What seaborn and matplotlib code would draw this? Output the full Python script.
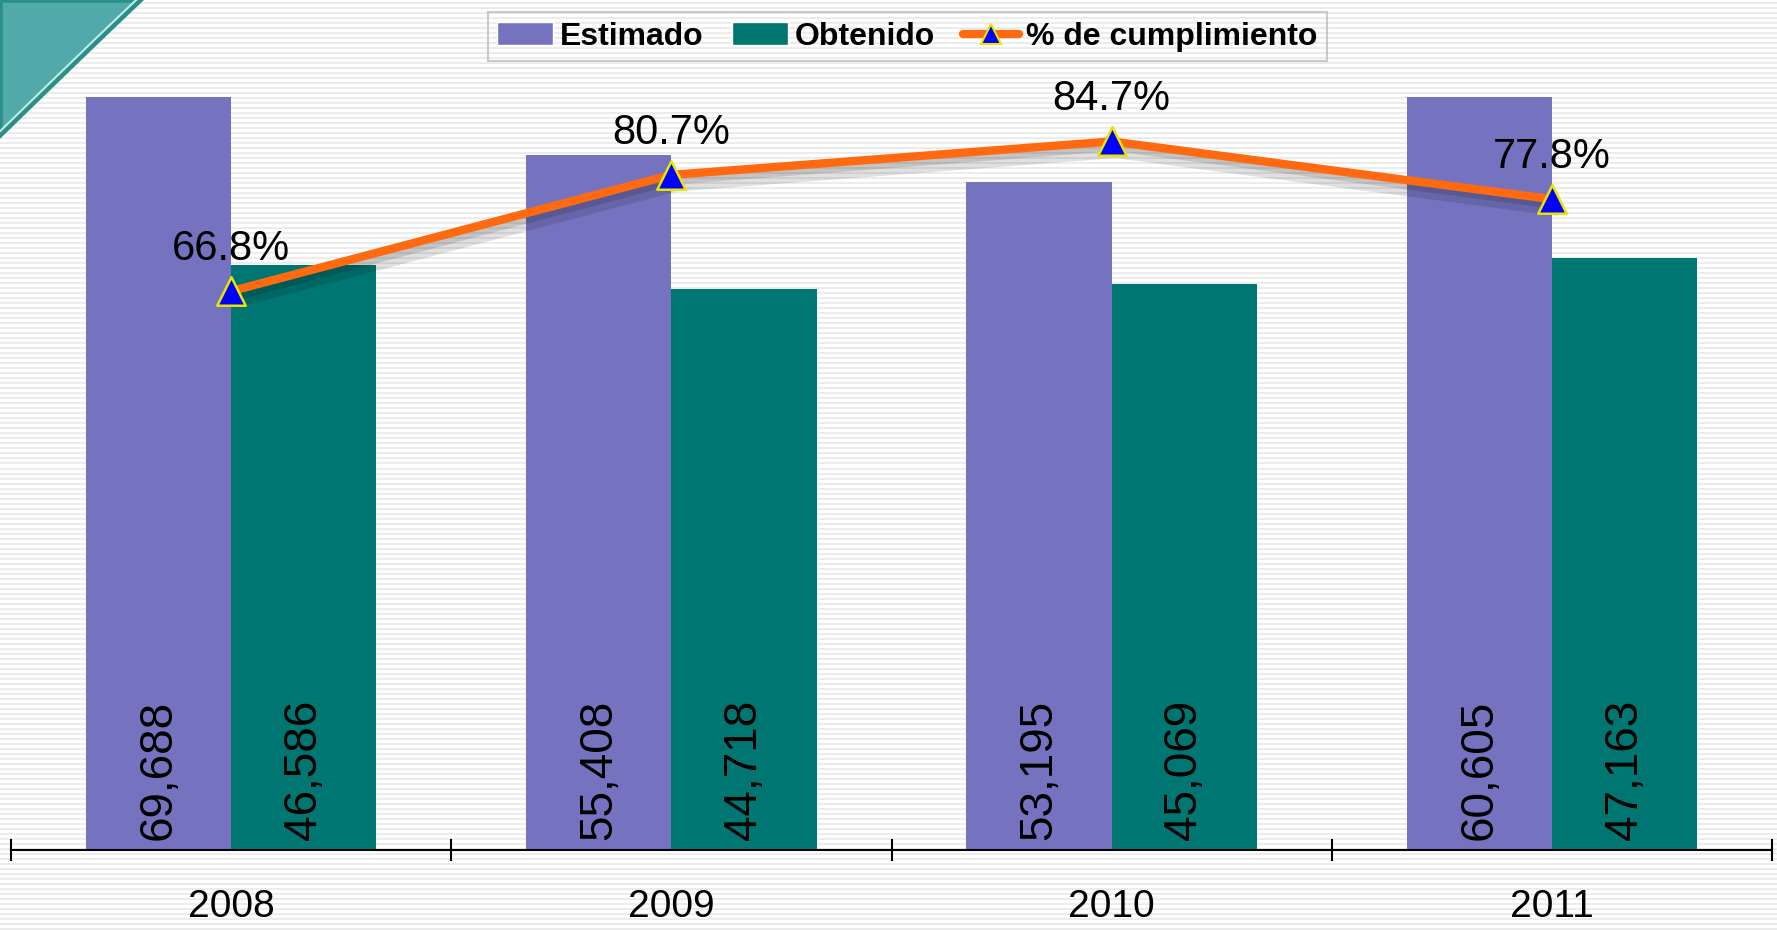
import numpy as np
import pandas as pd
import matplotlib
matplotlib.use("Agg")
import matplotlib.pyplot as plt
import matplotlib.patheffects as pe
from matplotlib.patches import Polygon
from matplotlib.lines import Line2D
import seaborn as sns

# datos
years = ["2008", "2009", "2010", "2011"]
estimado = [69688, 55408, 53195, 60605]
obtenido = [46586, 44718, 45069, 47163]
cumplimiento = [66.8, 80.7, 84.7, 77.8]

COL_EST = "#7573C0"
COL_OBT = "#007672"
COL_LINE = "#FF6A10"

sns.set_theme(style="white")
plt.rcParams["font.family"] = ["Liberation Sans", "DejaVu Sans"]
plt.rcParams["text.color"] = "black"
plt.rcParams["xtick.color"] = "black"

df = pd.DataFrame({
    "year": years * 2,
    "valor": estimado + obtenido,
    "serie": ["Estimado"] * 4 + ["Obtenido"] * 4,
})

fig = plt.figure(figsize=(17.77, 9.30), dpi=100)

# fondo rayado
bg = fig.add_axes([0, 0, 1, 1], zorder=-10)
rows = np.array([1.0 if (i % 5) < 3 else 0.925 for i in range(930)])
bg.imshow(np.tile(rows[:, None], (1, 8)), cmap="gray", vmin=0, vmax=1,
          aspect="auto", extent=[0, 1, 0, 1], interpolation="nearest")
# adorno turquesa arriba a la izquierda
t = np.linspace(0, 1, 30)
cx = 140 * t + 12 * np.sin(np.pi * t)
cy = 135 * (1 - t) - 12 * np.sin(np.pi * t)
pts = [(x / 1777, 1 - y / 930) for x, y in zip(cx, cy)] + [(0, 1)]
bg.add_patch(Polygon(pts, closed=True, facecolor="#52A9AA", edgecolor="#2B8F88",
                     linewidth=4, transform=bg.transAxes))
bg.plot([p[0] for p in pts[:-1]], [p[1] + 0.004 for p in pts[:-1]], color="#BFEDE6",
        linewidth=1.5, transform=bg.transAxes)
bg.set_xlim(0, 1)
bg.set_ylim(0, 1)
bg.axis("off")

ax = fig.add_axes([0.0062, 0.086, 0.991, 0.8096])
ax.patch.set_alpha(0)
sns.barplot(data=df, x="year", y="valor", hue="serie", palette=[COL_EST, COL_OBT],
            width=0.66, saturation=1, linewidth=0, ax=ax, legend=False, zorder=2)
ax.set_ylim(0, 60000)
ax.set_xlim(-0.5, 3.5)

# etiquetas de valor dentro de las barras
for cont, vals in zip(ax.containers, [estimado, obtenido]):
    for bar, v in zip(cont, vals):
        ax.annotate(f"{v:,}", xy=(bar.get_x() + bar.get_width() / 2, 0),
                    xytext=(0, 7), textcoords="offset points", rotation=90,
                    ha="center", va="bottom", fontsize=33, color="black", zorder=5)

ax.set_xlabel("")
ax.set_ylabel("")
ax.set_yticks([])
for s in ["top", "left", "right"]:
    ax.spines[s].set_visible(False)
ax.spines["bottom"].set_color("black")
ax.spines["bottom"].set_linewidth(1.5)
ax.set_xticks(range(4))
ax.set_xticklabels(years, fontsize=28, color="black")
ax.tick_params(axis="x", which="major", length=0, pad=28)
ax.set_xticks(np.arange(-0.5, 4, 1), minor=True)
ax.tick_params(axis="x", which="minor", direction="inout", length=16, width=1.5,
               color="black", bottom=True)

# porcentaje de cumplimiento
ax2 = ax.twinx()
ax2.set_ylim(0, 90)
sns.lineplot(x=np.arange(4), y=cumplimiento, ax=ax2, color=COL_LINE, linewidth=6,
             zorder=6,
             path_effects=[pe.SimpleLineShadow(offset=(3, -6), alpha=0.12, shadow_color="black",
                                               linewidth=12),
                           pe.SimpleLineShadow(offset=(2, -4), alpha=0.12, shadow_color="black"),
                           pe.Normal()])
sns.scatterplot(x=np.arange(4), y=cumplimiento, ax=ax2, marker="^", s=420,
                color="#0000FF", edgecolor="#E6E600", linewidth=1.8, zorder=7)
for i, p in enumerate(cumplimiento):
    ax2.annotate(f"{p}%", xy=(i, p), xytext=(0, 16), textcoords="offset points",
                 ha="center", va="bottom", fontsize=30, color="black")
ax2.set_yticks([])
ax2.set_ylabel("")
for s in ["top", "left", "right", "bottom"]:
    ax2.spines[s].set_visible(False)

handles = [
    plt.Rectangle((0, 0), 1, 1, facecolor=COL_EST),
    plt.Rectangle((0, 0), 1, 1, facecolor=COL_OBT),
    Line2D([], [], color=COL_LINE, linewidth=6, marker="^", markersize=14,
           markerfacecolor="#0000FF", markeredgecolor="#E6E600", markeredgewidth=1.5),
]
leg = fig.legend(handles, ["Estimado", "Obtenido", "% de cumplimiento"], loc="upper center",
                 bbox_to_anchor=(0.5105, 1.004), ncol=3, frameon=True, fancybox=False,
                 prop={"weight": "bold", "size": 23}, handlelength=1.75, handleheight=0.7,
                 handletextpad=0.2, columnspacing=0.9, borderpad=0.3, labelcolor="black")
leg.get_frame().set_facecolor("none")
leg.get_frame().set_edgecolor("#BDBDBD")
leg.get_frame().set_linewidth(1.5)

fig.savefig("out.png", dpi=100)
